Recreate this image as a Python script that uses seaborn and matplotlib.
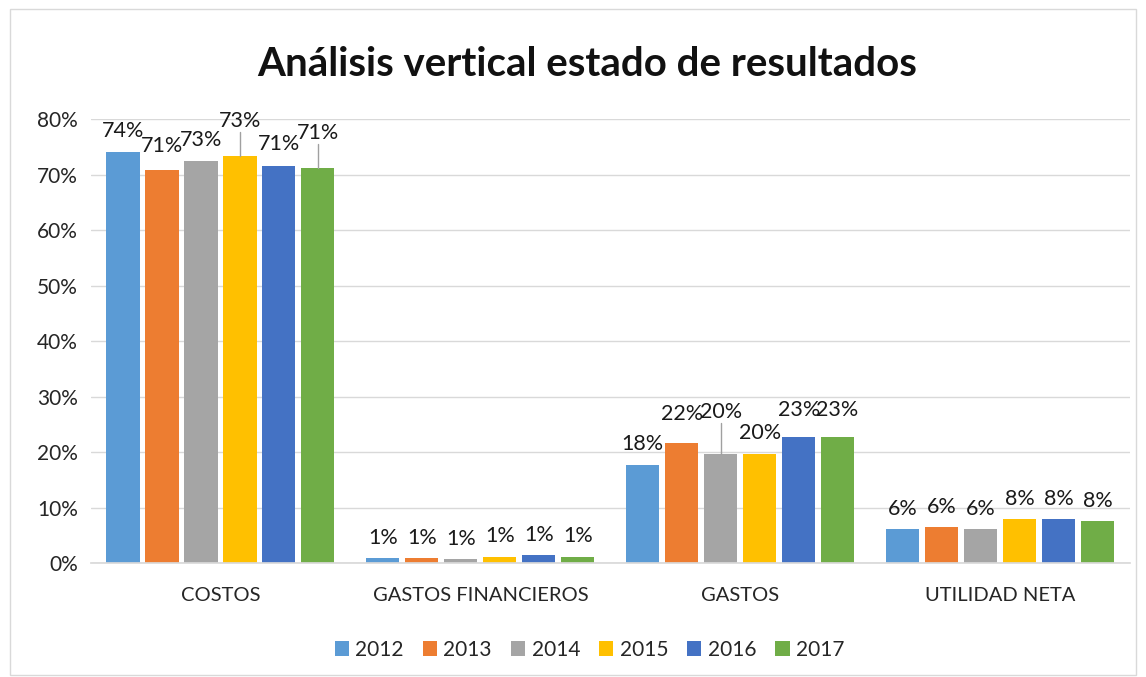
import pandas as pd
import numpy as np
import matplotlib.pyplot as plt
import seaborn as sns

categories = ['COSTOS', 'GASTOS FINANCIEROS', 'GASTOS', 'UTILIDAD NETA']
years = ['2012', '2013', '2014', '2015', '2016', '2017']
# percentage of sales per year (rows follow categories)
values = {
    '2012': [74.1, 0.9, 17.7, 6.1],
    '2013': [70.8, 0.9, 21.6, 6.5],
    '2014': [72.5, 0.7, 19.6, 6.1],
    '2015': [73.3, 1.2, 19.7, 7.9],
    '2016': [71.5, 1.4, 22.7, 7.9],
    '2017': [71.2, 1.2, 22.7, 7.6],
}
labels = {
    '2012': ['74%', '1%', '18%', '6%'],
    '2013': ['71%', '1%', '22%', '6%'],
    '2014': ['73%', '1%', '20%', '6%'],
    '2015': ['73%', '1%', '20%', '8%'],
    '2016': ['71%', '1%', '23%', '8%'],
    '2017': ['71%', '1%', '23%', '8%'],
}
colors = ['#5B9BD5', '#ED7D31', '#A5A5A5', '#FFC000', '#4472C4', '#70AD47']

# extra lift (in % units) Excel used to keep labels apart, with leader line flag
lift = {('COSTOS', '2015'): (2.6, True), ('COSTOS', '2017'): (2.6, True),
        ('COSTOS', '2013'): (0.6, False), ('COSTOS', '2016'): (0.3, False),
        ('GASTOS', '2014'): (4.0, True), ('GASTOS', '2013'): (1.5, False),
        ('GASTOS', '2016'): (1.2, False), ('GASTOS', '2017'): (1.2, False)}

rows = []
for y in years:
    for c, v in zip(categories, values[y]):
        rows.append({'cat': c, 'year': y, 'val': v})
df = pd.DataFrame(rows)

sns.set_theme(style='white')
plt.rcParams['font.family'] = ['Lato', 'DejaVu Sans']

fig = plt.figure(figsize=(11.46, 6.77), dpi=100)
ax = fig.add_axes([0.079, 0.168, 0.907, 0.656])

sns.barplot(data=df, x='cat', y='val', hue='year', order=categories, hue_order=years,
            palette=colors, width=0.9, gap=0.15, ax=ax, legend=True,
            edgecolor='none', saturation=1)

ax.set_ylim(0, 80)
ax.set_xlim(-0.5, 3.5)
ax.set_yticks(np.arange(0, 81, 10))
ax.set_yticklabels([f'{t}%' for t in range(0, 81, 10)], fontsize=15)
ax.tick_params(axis='x', labelsize=14.5, pad=17, length=0)
ax.tick_params(axis='y', length=0, pad=9)
ax.set_xlabel('')
ax.set_ylabel('')
ax.yaxis.grid(True, color='#D9D9D9', lw=1)
ax.set_axisbelow(True)
for s in ['top', 'right', 'left']:
    ax.spines[s].set_visible(False)
ax.spines['bottom'].set_color('#D9D9D9')

# data labels
for container, y in zip(ax.containers, years):
    for bar, c, txt in zip(container.patches, categories, labels[y]):
        top = bar.get_height()
        xc = bar.get_x() + bar.get_width() / 2
        extra, leader = lift.get((c, y), (0, False))
        ty = top + 1.9 + extra
        ax.text(xc, ty, txt, ha='center', va='bottom', fontsize=15.5, color='#1a1a1a')
        if leader:
            ax.plot([xc, xc], [top, ty - 0.2], color='#A0A0A0', lw=1)

ax.legend(loc='upper center', bbox_to_anchor=(0.48, -0.13), ncol=6, frameon=False,
          fontsize=15, handlelength=0.7, handleheight=0.7, handletextpad=0.3,
          columnspacing=0.9)

fig.text(0.512, 0.905, 'Análisis vertical estado de resultados', ha='center', va='center',
         fontsize=29, fontweight='bold', color='#111111')

border = plt.Rectangle((0.009, 0.003), 0.982, 0.984, transform=fig.transFigure,
                       fill=False, edgecolor='#D9D9D9', lw=1)
fig.patches.append(border)

fig.savefig('out.png', dpi=100)
